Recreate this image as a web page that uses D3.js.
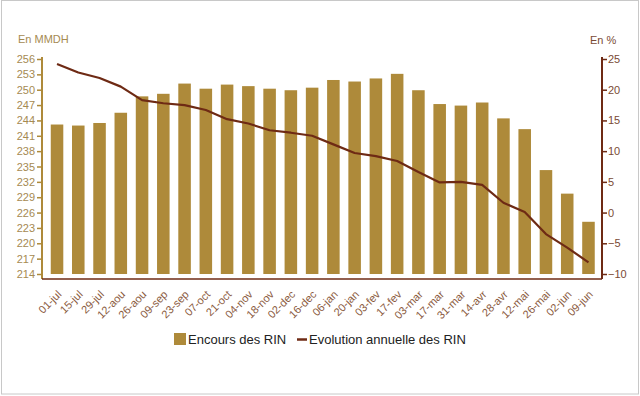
<!DOCTYPE html>
<html>
<head>
<meta charset="utf-8">
<script src="https://cdn.jsdelivr.net/npm/d3@7"></script>
<style>
  body { margin: 0; background: #fff; }
  svg { display: block; font-family: "Liberation Sans", Arial, sans-serif; }
</style>
</head>
<body>
<svg width="640" height="396"></svg>
<script>
// ~~~~~~ DATA ~~~~~~
var dates = ["01-jul", "15-jul", "29-jul", "12-aou", "26-aou", "09-sep", "23-sep", "07-oct",
             "21-oct", "04-nov", "18-nov", "02-dec", "16-dec", "06-jan", "20-jan", "03-fev",
             "17-fev", "03-mar", "17-mar", "31-mar", "14-avr", "28-avr", "12-mai", "26-mai",
             "02-jun", "09-jun"];

// Encours des RIN (MMDH)
var encours = [243.2, 243.0, 243.5, 245.5, 248.7, 249.2, 251.2, 250.2, 251.0, 250.7,
               250.2, 249.9, 250.4, 251.9, 251.6, 252.2, 253.1, 249.9, 247.2, 246.9,
               247.5, 244.4, 242.3, 234.3, 229.7, 224.2];

// Evolution annuelle des RIN (%)
var evolution = [24.2, 22.8, 21.9, 20.5, 18.3, 17.8, 17.5, 16.7, 15.2, 14.5,
                 13.4, 13.0, 12.5, 11.1, 9.7, 9.2, 8.4, 6.6, 4.9, 5.0,
                 4.5, 1.6, 0.1, -3.5, -5.7, -8.1];

var leftTicks = d3.range(214, 257, 3);
var rightTicks = d3.range(-10, 26, 5);

// ~~~~~~ COLORS ~~~~~~
var barColor = "#ae8a3a";
var lineColor = "#6e2a14";
var goldText = "#a58a52";
var brownText = "#7a4a34";

var svg = d3.select("svg");

// frame
svg.append("rect")
   .attr("x", 1.5).attr("y", 0.5)
   .attr("width", 637).attr("height", 393.5)
   .attr("fill", "#fff")
   .attr("stroke", "#c8c8c8");

var plotLeft = 42, plotRight = 602, plotTop = 59, plotBottom = 274, axisY = 279;

// ~~~~~~ SCALES ~~~~~~
var x = d3.scaleBand().domain(dates).range([plotLeft + 4.5, plotRight - 3]).paddingInner(0.41).paddingOuter(0.2);
var yL = d3.scaleLinear().domain([214, 256]).range([plotBottom, plotTop]);
var yR = d3.scaleLinear().domain([-10, 25]).range([plotBottom, plotTop]);

// bars
svg.selectAll(".bar")
   .data(encours)
   .enter()
   .append("rect")
   .attr("class", "bar")
   .attr("x", function(d, i) { return x(dates[i]); })
   .attr("y", function(d) { return yL(d); })
   .attr("width", x.bandwidth())
   .attr("height", function(d) { return yL(214) - yL(d); })
   .attr("fill", barColor);

// line
var line = d3.line()
   .x(function(d, i) { return x(dates[i]) + x.bandwidth() / 2; })
   .y(function(d) { return yR(d); });

svg.append("path")
   .datum(evolution)
   .attr("d", line)
   .attr("fill", "none")
   .attr("stroke", lineColor)
   .attr("stroke-width", 2.2)
   .attr("stroke-linejoin", "round");

// ~~~~~~ AXES ~~~~~~
// left axis
var gL = svg.append("g")
   .attr("transform", "translate(" + plotLeft + ",0)")
   .call(d3.axisLeft(yL).tickValues(leftTicks).tickSize(5).tickSizeOuter(0));
gL.select(".domain").remove();
gL.selectAll("line").attr("stroke", barColor).attr("stroke-width", 1.5);
gL.selectAll("text").attr("fill", goldText).style("font-size", "11px").attr("x", -7);
svg.append("line")
   .attr("x1", plotLeft).attr("x2", plotLeft)
   .attr("y1", plotTop - 2).attr("y2", axisY)
   .attr("stroke", barColor).attr("stroke-width", 2);

// right axis
var gR = svg.append("g")
   .attr("transform", "translate(" + plotRight + ",0)")
   .call(d3.axisRight(yR).tickValues(rightTicks).tickSize(5).tickSizeOuter(0));
gR.select(".domain").remove();
gR.selectAll("line").attr("stroke", lineColor).attr("stroke-width", 1.5);
gR.selectAll("text").attr("fill", brownText).style("font-size", "11px").attr("x", 6);
svg.append("line")
   .attr("x1", plotRight).attr("x2", plotRight)
   .attr("y1", plotTop - 2).attr("y2", axisY)
   .attr("stroke", lineColor).attr("stroke-width", 2);

// bottom axis
svg.append("line")
   .attr("x1", plotLeft).attr("x2", plotRight)
   .attr("y1", axisY).attr("y2", axisY)
   .attr("stroke", lineColor).attr("stroke-width", 1.5);

var gX = svg.append("g")
   .attr("transform", "translate(0," + axisY + ")")
   .call(d3.axisBottom(x).tickSize(0));
gX.select(".domain").remove();
gX.selectAll("text")
   .attr("fill", "#8a5a40")
   .style("font-size", "11px")
   .attr("text-anchor", "end")
   .attr("dy", 0)
   .attr("transform", "translate(3,14) rotate(-45)");

// axis titles
svg.append("text")
   .attr("x", 18).attr("y", 43)
   .attr("fill", goldText)
   .style("font-size", "11px")
   .text("En MMDH");

svg.append("text")
   .attr("x", 590).attr("y", 44)
   .attr("fill", brownText)
   .style("font-size", "11px")
   .text("En %");

// ~~~~~~ LEGEND ~~~~~~
var legend = svg.append("g").attr("transform", "translate(174,333)");
legend.append("rect")
   .attr("x", 0).attr("y", 0)
   .attr("width", 12).attr("height", 12)
   .attr("fill", barColor);
legend.append("text")
   .attr("x", 14).attr("y", 11)
   .attr("fill", "#222")
   .style("font-size", "13px")
   .text("Encours des RIN");
legend.append("line")
   .attr("x1", 123).attr("x2", 133)
   .attr("y1", 6.5).attr("y2", 6.5)
   .attr("stroke", lineColor).attr("stroke-width", 2.5);
legend.append("text")
   .attr("x", 135).attr("y", 11)
   .attr("fill", "#222")
   .style("font-size", "13px")
   .text("Evolution annuelle des RIN");
</script>
</body>
</html>
